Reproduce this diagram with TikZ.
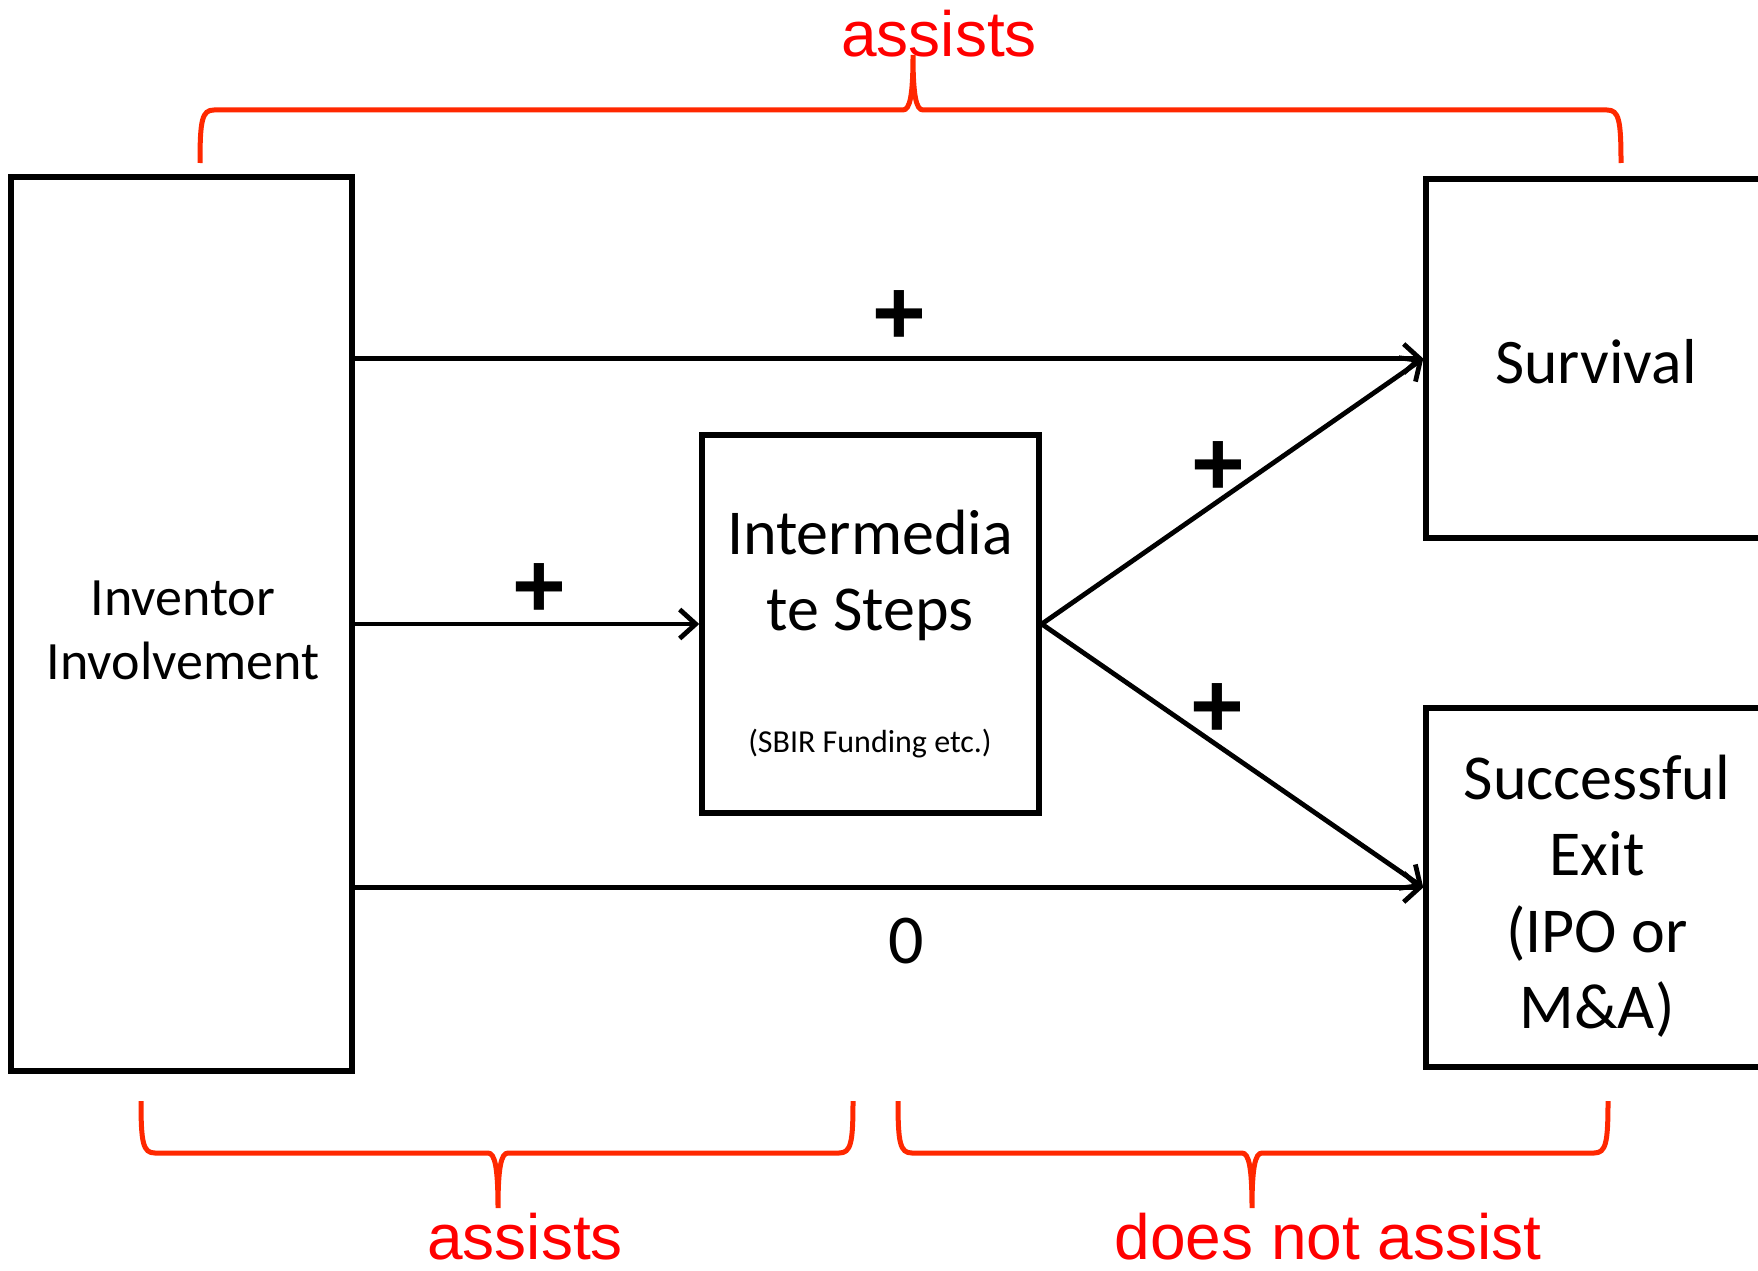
\documentclass[tikz,border=0pt]{standalone}
\usepackage{fontspec}
\setmainfont{Carlito}
\newfontfamily\arialfont{Liberation Sans}
\usetikzlibrary{arrows.meta}
\definecolor{bracered}{RGB}{255,40,0}
\definecolor{textred}{RGB}{255,0,0}
\tikzset{
  box/.style={draw=black, line width=5.5pt, inner sep=0pt, rectangle},
  conn/.style={draw=black, line width=4.8pt, -{Straight Barb[length=16pt,width=29pt]}},
  brace/.style={draw=bracered, line width=5pt},
  redlbl/.style={text=textred, font=\arialfont\fontsize{64}{70}\selectfont, inner sep=0pt, anchor=base},
  signlbl/.style={font=\arialfont\bfseries\fontsize{92}{100}\selectfont, inner sep=0pt, anchor=base},
  txt/.style={align=center, inner sep=0pt},
}
\begin{document}
\begin{tikzpicture}[x=1pt,y=-1pt]
\useasboundingbox (0,0) rectangle (1758,1271);
\fill[white] (0,0) rectangle (1758,1271);
\clip (0,0) rectangle (1758,1271);

% boxes
\node[box, minimum width=341pt, minimum height=894pt] (inv) at (181.5,624) {};
\node[box, minimum width=337pt, minimum height=378pt] (mid) at (870.5,624) {};
\node[box, minimum width=374pt, minimum height=359pt] (surv) at (1613,358.5) {};
\node[box, minimum width=374pt, minimum height=359pt] (exit) at (1613,887.5) {};

% box texts
\node[txt, font=\fontsize{54}{64}\selectfont] (invtxt) at (183,630) {Inventor\\Involvement};
\node[txt, font=\fontsize{64}{76}\selectfont] (midtxt) at (870,575.5) {Intermedia\\te Steps};
\node[txt, font=\fontsize{32}{36}\selectfont] (sbir) at (870,744) {(SBIR Funding etc.)};
\node[txt, font=\fontsize{63.5}{76}\selectfont] (survtxt) at (1596,362) {Survival};
\node[txt, font=\fontsize{64}{76.5}\selectfont] (exittxt) at (1597,896) {Successful\\Exit\\(IPO or\\M\&A)};

% connectors
\draw[conn] (surv.west -| inv.east) -- (surv.west);
\draw[conn] (inv.east) -- (mid.west);
\draw[conn] (exit.west -| inv.east) -- (exit.west);
\draw[conn] (mid.east) -- (surv.west);
\draw[conn] (mid.east) -- (exit.west);

% signs
\node[signlbl] (p1) at (899,344) {+};
\node[signlbl] (p2) at (539,617) {+};
\node[signlbl] (p3) at (1218,495.5) {+};
\node[signlbl] (p4) at (1217,737.5) {+};
\node[txt, font=\fontsize{70}{72}\selectfont] (zero) at (906,941) {0};

% braces
\draw[brace] (200,163) .. controls (200,120) and (202,110) .. (214,110) -- (903,110)
  .. controls (910,110) and (913,95) .. (913,55)
  .. controls (913,95) and (916,110) .. (923,110) -- (1607,110)
  .. controls (1619,110) and (1621,120) .. (1621,163);
\draw[brace] (141,1101) .. controls (141,1143) and (143,1153) .. (155,1153) -- (488,1153)
  .. controls (495,1153) and (498,1168) .. (498,1208)
  .. controls (498,1168) and (501,1153) .. (508,1153) -- (839,1153)
  .. controls (851,1153) and (853,1143) .. (853,1101);
\draw[brace] (898,1101) .. controls (898,1143) and (900,1153) .. (912,1153) -- (1242,1153)
  .. controls (1249,1153) and (1252,1168) .. (1252,1208)
  .. controls (1252,1168) and (1255,1153) .. (1262,1153) -- (1594,1153)
  .. controls (1606,1153) and (1608,1143) .. (1608,1101);

% red labels
\node[redlbl] (topl) at (939,57) {assists};
\node[redlbl] (botl) at (525,1259) {assists};
\node[redlbl] (botr) at (1328,1259) {does not assist};
\end{tikzpicture}
\end{document}
